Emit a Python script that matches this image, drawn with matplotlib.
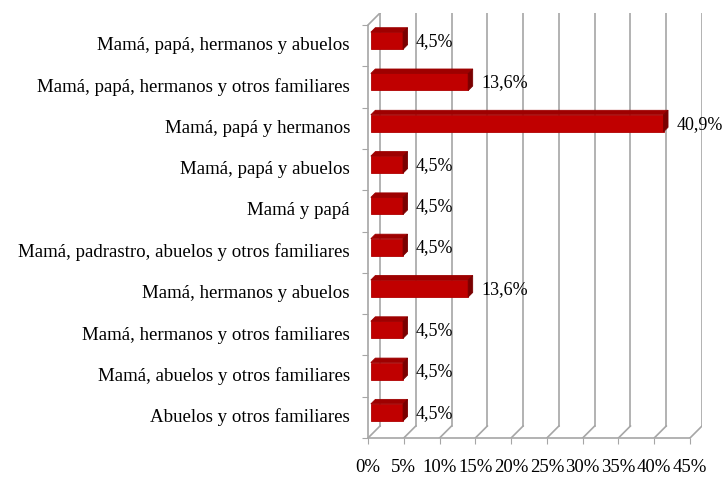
import matplotlib.pyplot as plt
from matplotlib.patches import Polygon

categorias = [
    "Abuelos y otros familiares",
    "Mamá, abuelos y otros familiares",
    "Mamá, hermanos y otros familiares",
    "Mamá, hermanos y abuelos",
    "Mamá, padrastro, abuelos y otros familiares",
    "Mamá y papá",
    "Mamá, papá y abuelos",
    "Mamá, papá y hermanos",
    "Mamá, papá, hermanos y otros familiares",
    "Mamá, papá, hermanos y abuelos",
]
valores = [4.5, 4.5, 4.5, 13.6, 4.5, 4.5, 4.5, 40.9, 13.6, 4.5]
etiquetas = ["4,5%", "4,5%", "4,5%", "13,6%", "4,5%", "4,5%", "4,5%", "40,9%", "13,6%", "4,5%"]
ticks_x = [0, 5, 10, 15, 20, 25, 30, 35, 40, 45]

plt.rcParams['font.family'] = ['Liberation Serif', 'DejaVu Serif']

fig = plt.figure(figsize=(7.26, 4.79), dpi=100)
W, H = 726, 479
# plano frontal: x 0..45 -> px 368..690, y -0.5..9.5 -> px 438..25
px_x = (690 - 368) / 45.0
px_y = (438 - 25) / 10.0
dx = 12 / px_x   # profundidad
dy = 12 / px_y
ax = fig.add_axes([368 / W, (H - 438) / H, (322 + 12) / W, (413 + 12) / H])
ax.set_xlim(0, 45 + dx)
ax.set_ylim(-0.5, 9.5 + dy)

gris = '#A6A6A6'
ymin, ymax = -0.5, 9.5
# lineas de cuadricula (suelo inclinado + pared del fondo)
for t in ticks_x:
    ax.plot([t, t + dx], [ymin, ymin + dy], color=gris, lw=1.2, zorder=1)
    ax.plot([t + dx, t + dx], [ymin + dy, ymax + dy], color=gris, lw=1.2, zorder=1)
# pared izquierda
ax.plot([0, dx], [ymax, ymax + dy], color=gris, lw=1.2, zorder=1)

for s in ['top', 'right']:
    ax.spines[s].set_visible(False)
ax.spines['bottom'].set_bounds(0, 45)
ax.spines['left'].set_bounds(ymin, ymax)
for s in ['bottom', 'left']:
    ax.spines[s].set_color(gris)
    ax.spines[s].set_linewidth(1.2)

ax.set_xticks(ticks_x)
ax.set_xticklabels([f"{t}%" for t in ticks_x], fontsize=13.5)
ax.tick_params(axis='x', length=4, color=gris, pad=11)
ax.set_yticks([i - 0.5 for i in range(11)])
ax.set_yticklabels([])
ax.tick_params(axis='y', length=4, color=gris)
ax.set_yticks([i + 0.05 for i in range(len(categorias))], minor=True)
ax.set_yticklabels(categorias, minor=True, fontsize=13.6)
ax.tick_params(axis='y', which='minor', length=0, pad=13)

# barras
ox, oy = 0.4, 0.12
h = 17 / px_y
bdx, bdy = 4.5 / px_x, 4.5 / px_y
for i, v in enumerate(valores):
    y0 = i + oy - h / 2
    y1 = i + oy + h / 2
    x0 = ox
    x1 = v + ox
    front = Polygon([(x0, y0), (x1, y0), (x1, y1), (x0, y1)], closed=True,
                    facecolor='#C00000', edgecolor='#B00000', lw=0.6, zorder=3)
    top = Polygon([(x0, y1), (x1, y1), (x1 + bdx, y1 + bdy), (x0 + bdx, y1 + bdy)], closed=True,
                  facecolor='#9E0000', edgecolor='#9E0000', lw=0.6, zorder=3)
    side = Polygon([(x1, y0), (x1 + bdx, y0 + bdy), (x1 + bdx, y1 + bdy), (x1, y1)], closed=True,
                   facecolor='#7A0000', edgecolor='#7A0000', lw=0.6, zorder=3)
    for p in (front, top, side):
        ax.add_patch(p)
    ax.text(v + 2.2, i + 0.1, etiquetas[i], fontsize=13, va='center', ha='left', zorder=4)

fig.savefig('out.png', dpi=100)
